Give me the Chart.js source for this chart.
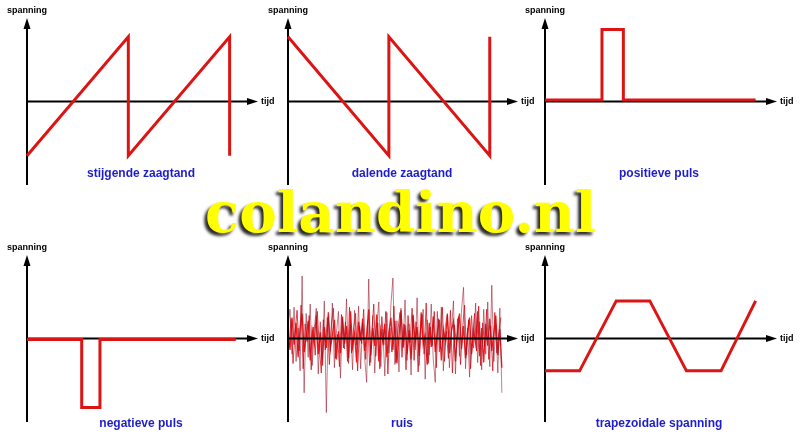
<!DOCTYPE html>
<html>
<head>
<meta charset="utf-8">
<title>Spanningsvormen</title>
<script src="https://cdn.jsdelivr.net/npm/chart.js@4.4.1/dist/chart.umd.min.js"></script>
<style>
  html, body { margin: 0; padding: 0; background: #fff; }
  #wrap { position: relative; width: 800px; height: 439px; overflow: hidden; }
  #wrap canvas { position: absolute; left: 0; top: 0; }
  #merk {
    position: absolute; left: 205px; top: 184px;
    font-family: "DejaVu Serif", serif; font-weight: bold; font-size: 57px;
    line-height: 57px; white-space: nowrap; color: #ffff00;
    text-shadow: -3px 3px 3px #2a2a2a;
  }
</style>
</head>
<body>
<div id="wrap">
  <canvas id="p1" width="800" height="439"></canvas>
  <canvas id="p2" width="800" height="439"></canvas>
  <canvas id="p3" width="800" height="439"></canvas>
  <canvas id="p4" width="800" height="439"></canvas>
  <canvas id="p5" width="800" height="439"></canvas>
  <canvas id="p6" width="800" height="439"></canvas>
  <div id="merk">colandino.nl</div>
</div>
<script>
// titels onder de grafieken
const titels = ["stijgende zaagtand", "dalende zaagtand", "positieve puls",
                "negatieve puls", "ruis", "trapezoidale spanning"];

// zaagtanden
const zaagTijd = [0, 10, 10, 20, 20];
const stijgendeSpanning = [-5.2, 6.2, -5.2, 6.2, -5.2];
const dalendeSpanning = [6.2, -5.2, 6.2, -5.2, 6.2];

// pulsen
const posPulsTijd = [0, 5.6, 5.6, 7.7, 7.7, 20.7];
const posPulsSpanning = [0.15, 0.15, 6.9, 6.9, 0.15, 0.15];
const negPulsTijd = [0, 5.4, 5.4, 7.2, 7.2, 20.6];
const negPulsSpanning = [-0.1, -0.1, -6.6, -6.6, -0.1, -0.1];

const ruisStap = 0.2;
const ruisDonker = [
  1.2, 2.8, -1.5, 3.0, -2.2, 1.0, -3.1, 6.0, -5.2, 2.4,
  -1.8, 3.3, -2.6, 0.8, 2.9, -3.4, 1.6, -2.0, 3.6, -7.1,
  2.1, -1.2, 3.4, -2.8, 0.5, 2.6, -3.8, 1.9, -1.0, 3.8,
  -2.4, 1.3, -3.0, 2.7, -0.6, 3.1, -2.9, 1.5, -1.9, -4.2,
  5.7, -2.3, 2.2, -3.3, 1.1, 3.5, -2.7, 0.9, -3.6, 2.5,
  -1.4, 3.2, 5.8, -2.5, 1.7, -3.2, 2.9, -0.8, 3.7, -2.1,
  1.4, -3.5, 2.3, -1.1, 3.9, -2.6, 0.7, 2.8, -3.9, 1.8,
  -1.6, 3.3, -2.0, -4.2, 2.6, -1.3, 3.0, -3.1, 1.2, 2.4,
  -2.8, 0.6, 3.6, -3.4, 1.9, -1.7, 2.7, 4.9, -2.9, 1.0,
  -3.7, 2.2, -0.9, 3.4, -2.3, 1.6, -3.0, 2.8, -1.5, 3.5,
  -2.7, 5.1, -2.2, 1.3, -3.3, 2.9, -5.2
];
const ruisFel = [
  0.4, -1.1, 2.0, -0.6, 1.5, -1.8, 0.9, 2.4, -1.3, 0.2,
  1.7, -2.1, 0.8, -0.4, 2.2, -1.5, 0.6, -2.6, 1.1, -0.9,
  2.5, -1.0, 0.3, 1.8, -2.0, 0.7, -1.4, 2.1, -0.5, 1.2,
  -1.9, 2.6, -0.8, 0.5, -2.3, 1.6, -0.2, 1.9, -1.2, 0.4,
  2.8, -1.6, 1.0, -0.7, 2.3, -2.2, 0.9, -0.3, 1.4, -1.8,
  0.6, 2.0, -1.1, 1.7, -2.4, 0.2, 2.7, -0.9, 1.3, -1.5,
  0.8, -2.0, 2.2, -0.4, 1.1, -1.7, 2.5, -0.6, 0.3, -2.5,
  1.5, -0.8, 2.1, -1.3, 0.5, 1.8, -2.1, 0.9, -0.2, 2.3,
  -1.4, 0.7, 1.6, -2.2, 0.4, 2.4, -1.0, 1.2, -1.9, 0.6,
  2.0, -1.5, 0.8, -0.5, 2.6, -1.7, 1.0, -2.3, 1.4, -0.7,
  1.9, -1.2, 0.5, 2.2, -1.6, 0.9, -2.8
];
const ruisTussen = [
  -0.8, 1.9, -2.4, 0.6, 2.7, -1.2, 3.2, -2.9, 1.4, -0.3,
  2.2, -3.0, 1.1, -1.6, 2.6, -0.7, -3.3, 1.8, -1.1, 2.0,
  -2.5, 1.3, 2.9, -1.9, 0.4, -2.7, 2.3, -0.9, 1.6, -2.2,
  3.0, -1.4, 0.9, 2.4, -3.1, 1.2, -0.5, 2.8, -2.0, 1.7,
  -2.6, 0.3, 3.3, -1.7, 1.5, -2.9, 2.1, -0.6, 2.6, -3.4,
  1.0, -1.3, 3.1, -2.3, 0.8, 2.5, -1.8, 1.4, -3.0, 2.2,
  -0.4, 2.9, -2.1, 1.6, -3.2, 0.5, 2.3, -1.5, 3.4, -2.4,
  1.1, -0.7, 2.6, -2.8, 1.9, -1.0, 3.0, -2.2, 0.7, -1.9,
  2.7, -3.3, 1.3, -0.6, 2.1, -2.5, 0.9, 3.2, -1.6, 1.8,
  -2.9, 0.4, 2.4, -1.2, 3.1, -2.6, 1.5, -0.8, 2.8, -2.0,
  1.2, -3.1, 2.5, -1.4, 0.6, 2.0
];

// trapezium
const trapTijd = [0, 3.4, 7.0, 10.3, 13.9, 17.3, 20.7];
const trapSpanning = [-3.1, -3.1, 3.6, 3.6, -3.1, -3.1, 3.6];

const rood = "#dc1414";

function punten(tijd, spanning) {
  return spanning.map((v, i) => ({ x: tijd[i], y: v }));
}

// assen met pijlen, asnamen en titel
const assenPlugin = {
  id: "assen",
  beforeDatasetsDraw(chart) {
    if (!chart.options.plugins.assen.bovenop) tekenAssen(chart);
  },
  afterDatasetsDraw(chart) {
    if (chart.options.plugins.assen.bovenop) tekenAssen(chart);
    const o = chart.options.plugins.assen;
    const ctx = chart.ctx;
    ctx.save();
    ctx.fillStyle = "#1e1ec8";
    ctx.font = "bold 12px 'Liberation Sans', Arial, sans-serif";
    ctx.textAlign = "center";
    ctx.textBaseline = "middle";
    ctx.fillText(o.titel, o.titelX, o.titelY);
    ctx.restore();
  }
};

function tekenAssen(chart) {
  const ctx = chart.ctx;
  const a = chart.chartArea;
  const ox = chart.scales.x.getPixelForValue(0);
  const oy = chart.scales.y.getPixelForValue(0);
  ctx.save();
  ctx.strokeStyle = "#000";
  ctx.fillStyle = "#000";
  ctx.lineWidth = 2;
  ctx.beginPath();
  ctx.moveTo(ox, a.bottom);
  ctx.lineTo(ox, a.top + 8);
  ctx.moveTo(ox, oy);
  ctx.lineTo(a.right - 8, oy);
  ctx.stroke();
  // pijlpunten
  ctx.beginPath();
  ctx.moveTo(ox, a.top);
  ctx.lineTo(ox - 3.5, a.top + 11);
  ctx.lineTo(ox + 3.5, a.top + 11);
  ctx.closePath();
  ctx.moveTo(a.right, oy);
  ctx.lineTo(a.right - 11, oy - 3.5);
  ctx.lineTo(a.right - 11, oy + 3.5);
  ctx.closePath();
  ctx.fill();
  ctx.font = "bold 9px 'Liberation Sans', Arial, sans-serif";
  ctx.textBaseline = "middle";
  ctx.textAlign = "center";
  ctx.fillText("spanning", ox, a.top - 7);
  ctx.textAlign = "left";
  ctx.fillText("tijd", a.right + 3, oy);
  ctx.restore();
}

function maakPaneel(id, vak, datasets, titel, titelY, bovenop) {
  return new Chart(document.getElementById(id), {
    type: "line",
    data: { datasets: datasets },
    options: {
      responsive: false,
      animation: false,
      events: [],
      layout: {
        padding: { left: vak[0], right: 800 - vak[1], top: vak[2], bottom: 439 - vak[3] }
      },
      scales: {
        x: { type: "linear", min: 0, max: 22.8, display: false },
        y: { type: "linear", min: -8, max: 8, display: false }
      },
      elements: {
        point: { radius: 0 },
        line: { tension: 0, borderJoinStyle: "miter", borderCapStyle: "butt" }
      },
      plugins: {
        legend: { display: false },
        tooltip: { enabled: false },
        assen: {
          titel: titel,
          titelX: vak[0] + 114,
          titelY: titelY,
          bovenop: !!bovenop
        }
      }
    },
    plugins: [assenPlugin]
  });
}

function rodeLijn(tijd, spanning) {
  return { data: punten(tijd, spanning), borderColor: rood, borderWidth: 3, clip: false };
}

// vakken: [links (y-as), rechts (pijlpunt x-as), boven (pijlpunt y-as), onder]
maakPaneel("p1", [27, 258, 18, 185], [rodeLijn(zaagTijd, stijgendeSpanning)], titels[0], 174);
maakPaneel("p2", [288, 518, 18, 185], [rodeLijn(zaagTijd, dalendeSpanning)], titels[1], 174);
maakPaneel("p3", [545, 777, 18, 185], [rodeLijn(posPulsTijd, posPulsSpanning)], titels[2], 174);
maakPaneel("p4", [27, 258, 255, 422], [rodeLijn(negPulsTijd, negPulsSpanning)], titels[3], 424);

const ruisTijd = ruisDonker.map((v, i) => i * ruisStap);
const ruisTussenTijd = ruisTussen.map((v, i) => (i + 0.5) * ruisStap);
maakPaneel("p5", [288, 518, 255, 422], [
  { data: punten(ruisTijd, ruisDonker), borderColor: "rgba(150,20,40,0.55)", borderWidth: 1, clip: false },
  { data: punten(ruisTussenTijd, ruisTussen), borderColor: "rgba(205,10,20,0.75)", borderWidth: 1, clip: false },
  { data: punten(ruisTijd, ruisFel), borderColor: "rgba(250,0,0,0.9)", borderWidth: 1.3, clip: false }
], titels[4], 424, true);

maakPaneel("p6", [545, 777, 255, 422], [rodeLijn(trapTijd, trapSpanning)], titels[5], 424);

// merknaam op breedte brengen
const merk = document.getElementById("merk");
const doel = 392;
const f = 57 * doel / merk.offsetWidth;
merk.style.fontSize = f.toFixed(1) + "px";
merk.style.lineHeight = f.toFixed(1) + "px";
</script>
</body>
</html>
